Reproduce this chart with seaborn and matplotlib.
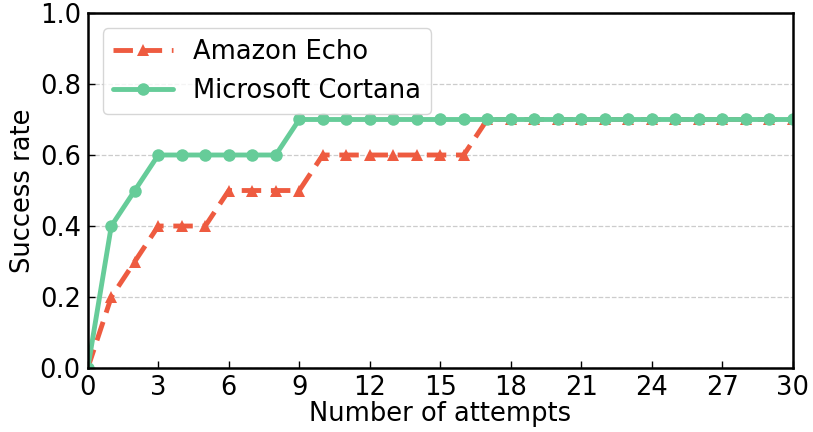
import matplotlib
matplotlib.use('Agg')
import matplotlib.pyplot as plt
import seaborn as sns
import numpy as np

attempts = list(range(0, 31))
echo = [0.0, 0.2, 0.3, 0.4, 0.4, 0.4, 0.5, 0.5, 0.5, 0.5,
        0.6, 0.6, 0.6, 0.6, 0.6, 0.6, 0.6] + [0.7] * 14
cortana = [0.0, 0.4, 0.5, 0.6, 0.6, 0.6, 0.6, 0.6, 0.6] + [0.7] * 22

echo_color = '#ee5b40'
cortana_color = '#66cc99'


def main():
    sns.set_style('white')
    plt.rcParams['font.family'] = ['DejaVu Sans']
    plt.rcParams['text.color'] = 'black'
    plt.rcParams['axes.labelcolor'] = 'black'
    plt.rcParams['xtick.color'] = 'black'
    plt.rcParams['ytick.color'] = 'black'
    fig, ax = plt.subplots(figsize=(8.13, 4.32), dpi=100)

    sns.lineplot(x=attempts, y=echo, ax=ax, color=echo_color, linewidth=3.5,
                 dashes=(4, 2), marker='^', markersize=9, markeredgewidth=0,
                 label='Amazon Echo')
    sns.lineplot(x=attempts, y=cortana, ax=ax, color=cortana_color, linewidth=3.5,
                 linestyle='-', marker='o', markersize=9, markeredgewidth=0,
                 label='Microsoft Cortana')

    ax.set_xlim(0, 30)
    ax.set_ylim(0, 1.0)
    ax.set_xticks(np.arange(0, 31, 3))
    ax.set_yticks(np.arange(0, 1.01, 0.2))
    ax.set_yticklabels(['0.0', '0.2', '0.4', '0.6', '0.8', '1.0'])
    ax.yaxis.grid(True, linestyle='--', color='#cccccc', linewidth=0.9)
    ax.tick_params(direction='in', length=5, width=1, labelsize=18.5,
                   bottom=True, left=True)
    ax.tick_params(axis='x', pad=5)
    ax.tick_params(axis='y', pad=5)
    for s in ax.spines.values():
        s.set_color('black')
        s.set_linewidth(1.8)
    ax.set_xlabel('Number of attempts', fontsize=18.5, labelpad=0)
    ax.set_ylabel('Success rate', fontsize=18.5, labelpad=3)
    ax.legend(loc='upper left', fontsize=18.5, frameon=True, handlelength=2.3,
              borderaxespad=0.6)

    plt.subplots_adjust(left=0.108, right=0.975, top=0.97, bottom=0.148)
    plt.savefig('out.png', dpi=100)


if __name__ == '__main__':
    main()
